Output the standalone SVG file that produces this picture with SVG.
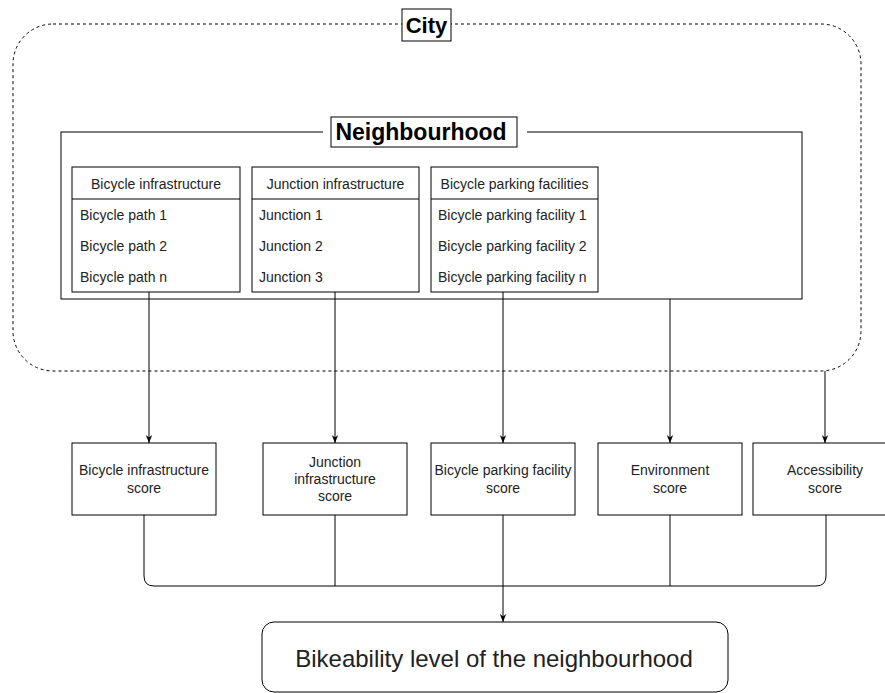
<svg xmlns="http://www.w3.org/2000/svg" width="885" height="693" viewBox="0 0 885 693">
<style>
.box{fill:#fff;stroke:#000;stroke-width:1}
.t{font-family:"Liberation Sans",Arial,sans-serif;font-size:14px;fill:#222;dominant-baseline:central}
.c{text-anchor:middle}
.b{font-weight:bold;fill:#000}
.ln{fill:none;stroke:#000;stroke-width:1}
</style>
<defs>
<marker id="arr" viewBox="0 0 10 10" refX="10" refY="5" markerWidth="8" markerHeight="8" markerUnits="userSpaceOnUse" orient="auto">
<path d="M0,1 L10,5 L0,9 L3,5 Z" fill="#000"/>
</marker>
</defs>
<rect width="885" height="693" fill="#fff"/>
<g id="city">
<rect x="13" y="24" width="848" height="347" rx="40" ry="40" fill="none" stroke="#000" stroke-width="1" stroke-dasharray="3 3"/>
<rect x="402" y="9" width="49" height="32" class="box"/>
<text x="426.5" y="25" class="t c b" style="font-size:22px">City</text>
</g>
<g id="neighbourhood">
<rect x="61" y="132" width="741" height="167" class="box"/>
<rect x="323" y="120" width="204" height="24" fill="#fff"/>
<rect x="331" y="117" width="186" height="30" class="box"/>
<text x="421" y="132" class="t c b" style="font-size:23px">Neighbourhood</text>
</g>
<g id="bicycle-infrastructure">
<rect x="72" y="167" width="168" height="125" class="box"/>
<line x1="72" y1="199" x2="240" y2="199" class="ln"/>
<text x="156" y="184" class="t c">Bicycle infrastructure</text>
<text x="80" y="215" class="t">Bicycle path 1</text>
<text x="80" y="246" class="t">Bicycle path 2</text>
<text x="80" y="277" class="t">Bicycle path n</text>
</g>
<g id="junction-infrastructure">
<rect x="252" y="167" width="167" height="125" class="box"/>
<line x1="252" y1="199" x2="419" y2="199" class="ln"/>
<text x="335.5" y="184" class="t c">Junction infrastructure</text>
<text x="259" y="215" class="t">Junction 1</text>
<text x="259" y="246" class="t">Junction 2</text>
<text x="259" y="277" class="t">Junction 3</text>
</g>
<g id="bicycle-parking-facilities">
<rect x="431" y="167" width="167" height="125" class="box"/>
<line x1="431" y1="199" x2="598" y2="199" class="ln"/>
<text x="514.5" y="184" class="t c">Bicycle parking facilities</text>
<text x="438" y="215" class="t">Bicycle parking facility 1</text>
<text x="438" y="246" class="t">Bicycle parking facility 2</text>
<text x="438" y="277" class="t">Bicycle parking facility n</text>
</g>
<g id="connectors">
<line x1="149" y1="292" x2="149" y2="443" class="ln" marker-end="url(#arr)"/>
<line x1="335" y1="292" x2="335" y2="443" class="ln" marker-end="url(#arr)"/>
<line x1="503" y1="292" x2="503" y2="443" class="ln" marker-end="url(#arr)"/>
<line x1="670" y1="299" x2="670" y2="443" class="ln" marker-end="url(#arr)"/>
<line x1="825" y1="371" x2="825" y2="443" class="ln" marker-end="url(#arr)"/>
<path d="M144,515 V576 Q144,586 154,586 H816 Q826,586 826,576 V515" class="ln"/>
<line x1="335" y1="515" x2="335" y2="586" class="ln"/>
<line x1="670" y1="515" x2="670" y2="586" class="ln"/>
<line x1="503" y1="515" x2="503" y2="622" class="ln" marker-end="url(#arr)"/>
</g>
<g id="bicycle-infrastructure-score">
<rect x="72" y="443" width="144" height="72" class="box"/>
<text x="144" y="470" class="t c">Bicycle infrastructure</text>
<text x="144" y="488" class="t c">score</text>
</g>
<g id="junction-infrastructure-score">
<rect x="263" y="443" width="144" height="72" class="box"/>
<text x="335" y="462" class="t c">Junction</text>
<text x="335" y="479" class="t c">infrastructure</text>
<text x="335" y="496" class="t c">score</text>
</g>
<g id="bicycle-parking-facility-score">
<rect x="431" y="443" width="144" height="72" class="box"/>
<text x="503" y="470" class="t c">Bicycle parking facility</text>
<text x="503" y="488" class="t c">score</text>
</g>
<g id="environment-score">
<rect x="598" y="443" width="144" height="72" class="box"/>
<text x="670" y="470" class="t c">Environment</text>
<text x="670" y="488" class="t c">score</text>
</g>
<g id="accessibility-score">
<rect x="753" y="443" width="144" height="72" class="box"/>
<text x="825" y="470" class="t c">Accessibility</text>
<text x="825" y="488" class="t c">score</text>
</g>
<g id="bikeability-level">
<rect x="262" y="622" width="466" height="70" rx="12" ry="12" class="box"/>
<text x="494" y="658" class="t c" style="font-size:24px">Bikeability level of the neighbourhood</text>
</g>
</svg>
